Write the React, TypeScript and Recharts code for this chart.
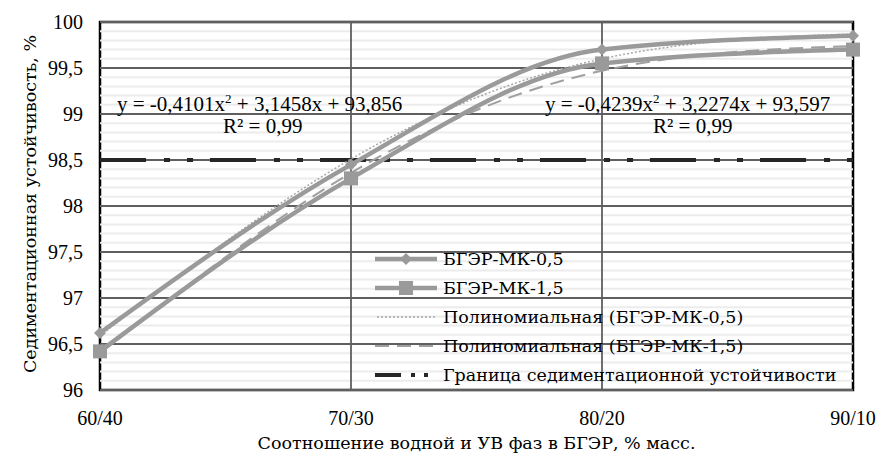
import React from "react";
import {
  LineChart,
  Line,
  XAxis,
  YAxis,
  ReferenceLine,
  ReferenceArea,
} from "recharts";

const categories = ["60/40", "70/30", "80/20", "90/10"];
const mk05 = [96.62, 98.45, 99.7, 99.85];
const mk15 = [96.42, 98.3, 99.55, 99.7];
const poly05 = [96.59, 98.51, 99.6, 99.87];
const poly15 = [96.4, 98.36, 99.47, 99.74];
const limit = [98.5, 98.5, 98.5, 98.5];

const yTicks = [96, 96.5, 97, 97.5, 98, 98.5, 99, 99.5, 100];
const yTickLabels = ["96", "96,5", "97", "97,5", "98", "98,5", "99", "99,5", "100"];
const innerCats = ["70/30", "80/20"];

// light minor lines every 0.1, skipping the major ones
const minorTicks: number[] = [];
for (let i = 1; i < 40; i++) {
  if (i % 5 !== 0) minorTicks.push(Math.round((96 + i * 0.1) * 10) / 10);
}

const data = categories.map((c, i) => ({
  cat: c,
  mk05: mk05[i],
  mk15: mk15[i],
  poly05: poly05[i],
  poly15: poly15[i],
  limit: limit[i],
}));

// Liberation Serif here has no Cyrillic, so Cyrillic text goes in DejaVu Serif
const LAT = "'Liberation Serif', 'DejaVu Serif'";
const CYR = "'DejaVu Serif'";
const CYR_FS = 17.5;
const SERIES = "#9a9a9a";
const GRID = "#5f5f5f";

const txt: React.CSSProperties = {
  position: "absolute",
  whiteSpace: "nowrap",
  lineHeight: "20px",
};

const Diamond = (props: any) => {
  const { cx, cy } = props;
  if (cx == null || cy == null) return null;
  const r = 6;
  return (
    <polygon
      points={`${cx},${cy - r} ${cx + r},${cy} ${cx},${cy + r} ${cx - r},${cy}`}
      fill={SERIES}
    />
  );
};

const Square = (props: any) => {
  const { cx, cy } = props;
  if (cx == null || cy == null) return null;
  const s = 14;
  return <rect x={cx - s / 2} y={cy - s / 2} width={s} height={s} fill={SERIES} />;
};

const legendItems = [
  { label: "БГЭР-МК-0,5", kind: "diamond" },
  { label: "БГЭР-МК-1,5", kind: "square" },
  { label: "Полиномиальная (БГЭР-МК-0,5)", kind: "dot" },
  { label: "Полиномиальная (БГЭР-МК-1,5)", kind: "dash" },
  { label: "Граница седиментационной устойчивости", kind: "limit" },
];

const LegendSample = ({ kind }: { kind: string }) => (
  <svg width={62} height={20} style={{ display: "block" }}>
    {kind === "diamond" && (
      <>
        <line x1={0} y1={10} x2={62} y2={10} stroke={SERIES} strokeWidth={4.5} />
        <polygon points="31,4 37,10 31,16 25,10" fill={SERIES} />
      </>
    )}
    {kind === "square" && (
      <>
        <line x1={0} y1={10} x2={62} y2={10} stroke={SERIES} strokeWidth={4.5} />
        <rect x={24} y={3} width={14} height={14} fill={SERIES} />
      </>
    )}
    {kind === "dot" && (
      <line x1={2} y1={10} x2={60} y2={10} stroke="#a8a8a8" strokeWidth={1.5} strokeDasharray="2 2" />
    )}
    {kind === "dash" && (
      <line x1={0} y1={10} x2={62} y2={10} stroke="#a0a0a0" strokeWidth={2} strokeDasharray="14 8" />
    )}
    {kind === "limit" && (
      <line x1={0} y1={10} x2={62} y2={10} stroke="#262626" strokeWidth={4} strokeDasharray="26 10 4 9 4 9" />
    )}
  </svg>
);

export default function App() {
  return (
    <div
      style={{
        position: "absolute",
        left: 0,
        top: 0,
        width: 877,
        height: 461,
        background: "#fff",
        color: "#000",
      }}
    >
      <LineChart
        width={877}
        height={461}
        data={data}
        margin={{ top: 22, right: 24, bottom: 0, left: 0 }}
      >
        {minorTicks.map((v) => (
          <ReferenceLine key={"m" + v} y={v} stroke="#ececec" strokeWidth={2} />
        ))}
        {yTicks.map((v) => (
          <ReferenceLine key={"y" + v} y={v} stroke={GRID} strokeWidth={1.8} />
        ))}
        {innerCats.map((c) => (
          <ReferenceLine key={"x" + c} x={c} stroke={GRID} strokeWidth={1.8} />
        ))}
        <XAxis
          dataKey="cat"
          height={71}
          tickSize={0}
          tickMargin={21}
          axisLine={false}
          tick={{ fontFamily: LAT, fontSize: 20, fill: "#000" }}
          interval={0}
        />
        <YAxis
          domain={[96, 100]}
          ticks={yTicks}
          width={100}
          tickSize={0}
          tickMargin={17}
          axisLine={false}
          tickFormatter={(v: number) => yTickLabels[yTicks.indexOf(v)]}
          tick={{ fontFamily: LAT, fontSize: 20, fill: "#000" }}
        />
        <Line
          dataKey="limit"
          type="linear"
          stroke="#262626"
          strokeWidth={4}
          strokeDasharray="46 18 6 17 6 17"
          dot={false}
          isAnimationActive={false}
        />
        <Line
          dataKey="poly05"
          type="natural"
          stroke="#a8a8a8"
          strokeWidth={1.5}
          strokeDasharray="2 2"
          dot={false}
          isAnimationActive={false}
        />
        <Line
          dataKey="poly15"
          type="natural"
          stroke="#a0a0a0"
          strokeWidth={2}
          strokeDasharray="14 8"
          dot={false}
          isAnimationActive={false}
        />
        <Line
          dataKey="mk05"
          type="monotone"
          stroke={SERIES}
          strokeWidth={4.5}
          dot={<Diamond />}
          isAnimationActive={false}
        />
        <Line
          dataKey="mk15"
          type="monotone"
          stroke={SERIES}
          strokeWidth={4.5}
          dot={<Square />}
          isAnimationActive={false}
        />
        <ReferenceArea
          x1="60/40"
          x2="90/10"
          y1={96}
          y2={100}
          fill="none"
          stroke="#000"
          strokeWidth={2.5}
          fillOpacity={0}
        />
      </LineChart>

      {/* trendline equations */}
      <div style={{ ...txt, fontFamily: LAT, fontSize: 21, left: 117, top: 94 }}>
        y = -0,4101x<sup style={{ fontSize: 13, verticalAlign: 8, lineHeight: 0 }}>2</sup> + 3,1458x + 93,856
      </div>
      <div style={{ ...txt, fontFamily: LAT, fontSize: 21, left: 223, top: 116 }}>R² = 0,99</div>
      <div style={{ ...txt, fontFamily: LAT, fontSize: 21, left: 545, top: 94 }}>
        y = -0,4239x<sup style={{ fontSize: 13, verticalAlign: 8, lineHeight: 0 }}>2</sup> + 3,2274x + 93,597
      </div>
      <div style={{ ...txt, fontFamily: LAT, fontSize: 21, left: 653, top: 116 }}>R² = 0,99</div>

      {/* legend */}
      <div style={{ position: "absolute", left: 375, top: 244 }}>
        {legendItems.map((it) => (
          <div key={it.label} style={{ display: "flex", alignItems: "center", height: 29 }}>
            <LegendSample kind={it.kind} />
            <span style={{ marginLeft: 6, fontFamily: CYR, fontSize: CYR_FS, whiteSpace: "nowrap" }}>
              {it.label}
            </span>
          </div>
        ))}
      </div>

      {/* axis titles */}
      <div
        style={{
          ...txt,
          fontFamily: CYR,
          fontSize: CYR_FS,
          left: 100,
          width: 753,
          top: 433,
          textAlign: "center",
        }}
      >
        Соотношение водной и УВ фаз в БГЭР, % масс.
      </div>
      <div
        style={{
          ...txt,
          fontFamily: CYR,
          fontSize: CYR_FS,
          left: 30,
          top: 204,
          transform: "translate(-50%, -50%) rotate(-90deg)",
        }}
      >
        Седиментационная устойчивость, %
      </div>
    </div>
  );
}
